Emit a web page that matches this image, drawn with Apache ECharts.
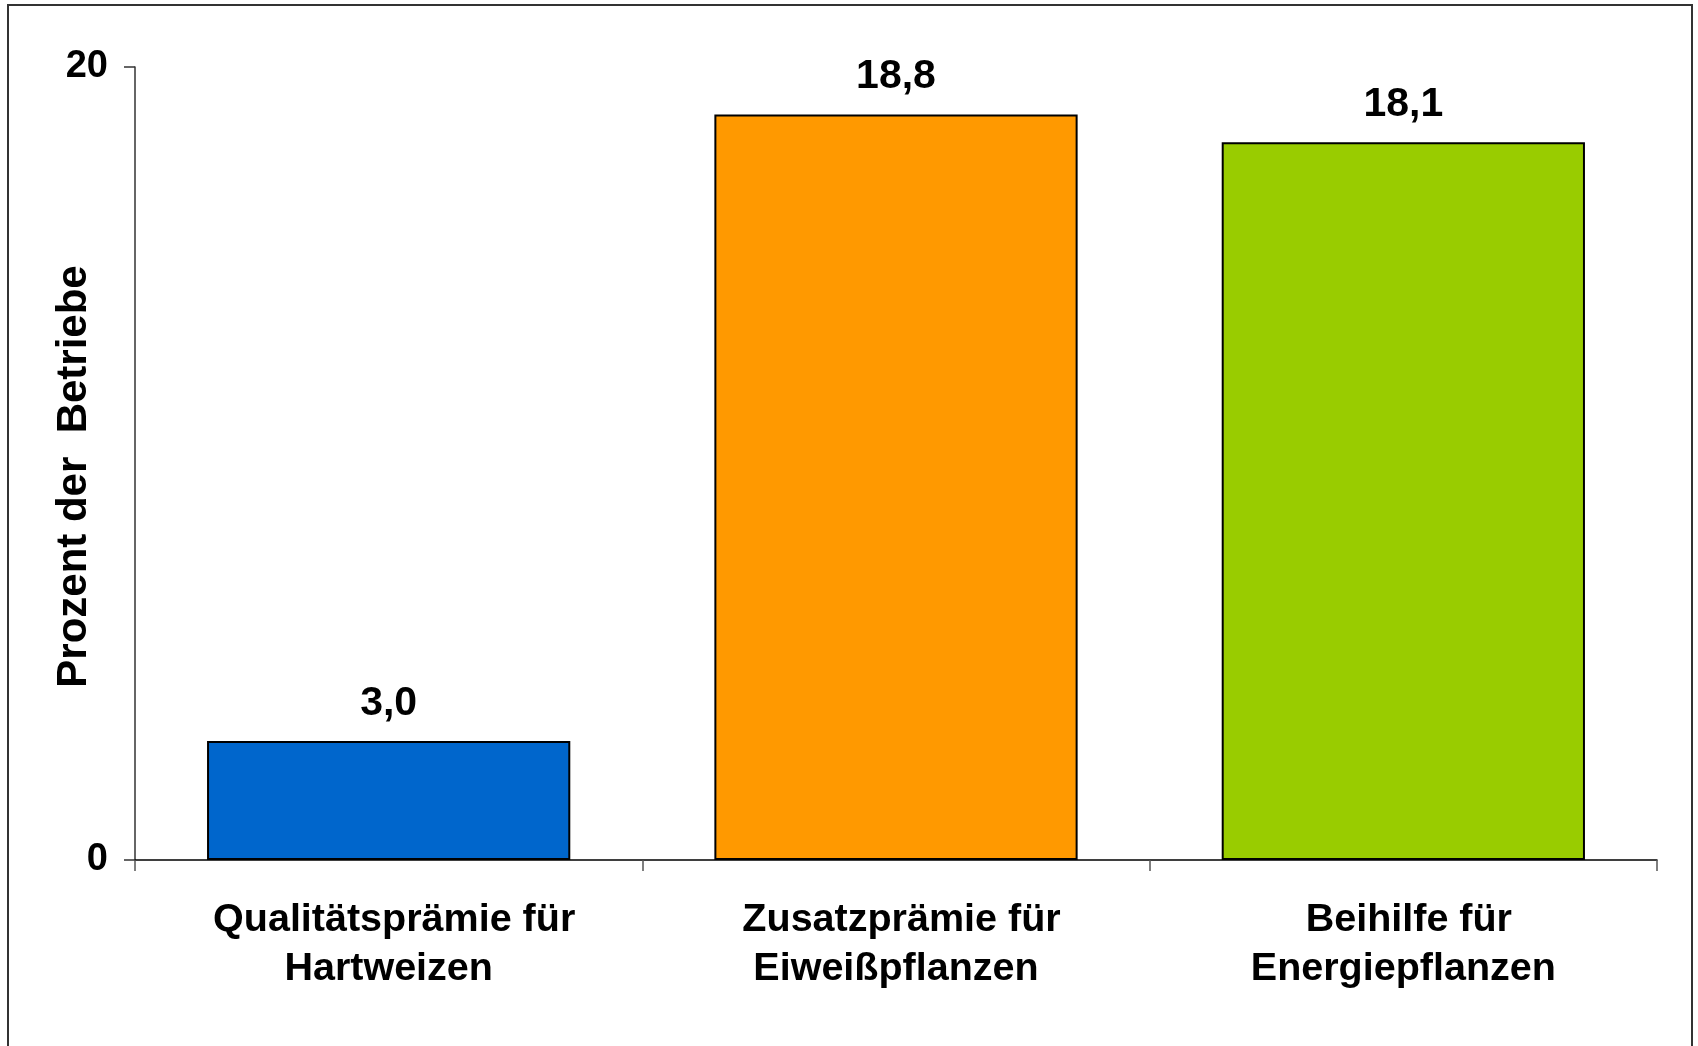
<!DOCTYPE html>
<html>
<head>
<meta charset="utf-8">
<script src="https://cdn.jsdelivr.net/npm/echarts@6/dist/echarts.min.js"></script>
<style>
  html, body { margin: 0; padding: 0; background: #fff; }
  #chart { width: 1698px; height: 1046px; }
</style>
</head>
<body>
<div id="chart"></div>
<script>
// Kategorien und Anteile (Prozent der Betriebe)
const categories = [
  'Qualitätsprämie für\nHartweizen',
  'Zusatzprämie für\nEiweißpflanzen',
  'Beihilfe für\nEnergiepflanzen'
];
const values = [3.0, 18.8, 18.1];
const barColors = ['#0066CC', '#FF9900', '#99CC00'];
const yTicks = [0, 20];

const font = '"Liberation Sans", Arial, sans-serif';
const catText = {
  color: '#000',
  fontFamily: font,
  fontWeight: 'bold',
  fontSize: 39.5,
  lineHeight: 49
};

const chart = echarts.init(document.getElementById('chart'), null, { renderer: 'canvas' });

chart.setOption({
  backgroundColor: '#ffffff',
  animation: false,
  graphic: [{
    type: 'rect',
    z: -10,
    shape: { x: 8, y: 5, width: 1684, height: 1100 },
    style: { fill: 'none', stroke: '#333333', lineWidth: 2 }
  }],
  grid: { left: 135, right: 41, top: 67, bottom: 186, containLabel: false },
  xAxis: {
    type: 'category',
    data: categories,
    axisLine: { show: true, lineStyle: { color: '#000', width: 1.5 } },
    axisTick: { show: true, interval: 0, length: 11, lineStyle: { color: '#555', width: 1.5 } },
    axisLabel: {
      interval: 0,
      hideOverlap: false,
      margin: 36,
      align: 'center',
      ...catText,
      // the first line of each label sits slightly right of the bar centre
      formatter: v => {
        const [first, second] = v.split('\n');
        return '{l1|' + first + '}\n{l2|' + second + '}';
      },
      rich: {
        l1: { ...catText, padding: [0, 0, 0, 11] },
        l2: { ...catText }
      }
    }
  },
  yAxis: {
    type: 'value',
    min: yTicks[0],
    max: yTicks[yTicks.length - 1],
    interval: yTicks[1] - yTicks[0],
    name: 'Prozent der  Betriebe',
    nameLocation: 'middle',
    nameRotate: 90,
    nameGap: 40,
    nameMoveOverlap: false,
    nameTextStyle: {
      color: '#000',
      fontFamily: font,
      fontWeight: 'bold',
      fontSize: 42,
      padding: [0, 26, 0, 0]
    },
    axisLine: { show: true, lineStyle: { color: '#333', width: 1.5 } },
    axisTick: { show: true, length: 11, lineStyle: { color: '#333', width: 1.5 } },
    splitLine: { show: false },
    axisLabel: {
      margin: 27,
      color: '#000',
      fontFamily: font,
      fontWeight: 'bold',
      fontSize: 38
    }
  },
  series: [{
    type: 'bar',
    barCategoryGap: '28.4%',
    data: values.map((v, i) => ({
      value: v,
      itemStyle: { color: barColors[i] }
    })),
    itemStyle: { borderColor: '#000', borderWidth: 2 },
    label: {
      show: true,
      position: 'top',
      distance: 17,
      color: '#000',
      fontFamily: font,
      fontWeight: 'bold',
      fontSize: 41,
      formatter: p => p.value.toFixed(1).replace('.', ',')
    }
  }]
});
</script>
</body>
</html>
